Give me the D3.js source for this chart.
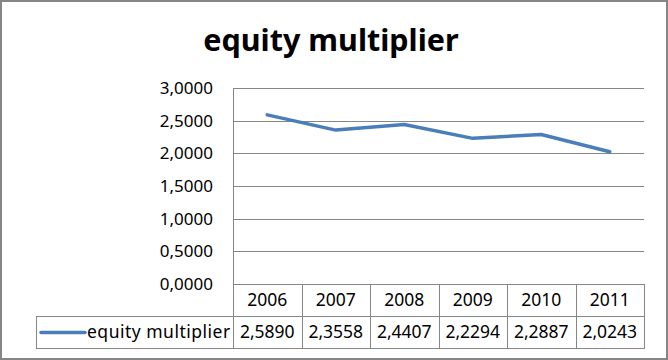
<!DOCTYPE html>
<html><head><meta charset="utf-8">
<script src="https://cdn.jsdelivr.net/npm/d3@7"></script>
<style>html,body{margin:0;padding:0;background:#fff;}svg{display:block;}</style>
</head><body>
<svg id="chart" width="668" height="360"></svg>
<script>
const title = "equity multiplier";
const seriesName = "equity multiplier";
const years = ["2006","2007","2008","2009","2010","2011"];
const values = [2.5890, 2.3558, 2.4407, 2.2294, 2.2887, 2.0243];
const yTicks = [0, 0.5, 1.0, 1.5, 2.0, 2.5, 3.0];

const fmt = v => v.toFixed(4).replace(".", ",");
const FONT = "'Noto Sans', 'Open Sans', sans-serif";
const gridColor = "#868686";
const lineColor = "#4a7ebb";

const svg = d3.select("#chart");
svg.append("rect").attr("x",0).attr("y",0).attr("width",668).attr("height",360).attr("fill","#fff");
svg.append("rect").attr("x",1).attr("y",1).attr("width",666).attr("height",358)
  .attr("fill","none").attr("stroke",gridColor).attr("stroke-width",2);

const pLeft = 233, pRight = 644, pTop = 88, pBottom = 284;
const row1 = 316, row2 = 348, legendLeft = 36;

const x = d3.scaleBand().domain(years).range([pLeft, pRight]).padding(0);
const y = d3.scaleLinear().domain([0, 3]).range([pBottom, pTop]);

// title
svg.append("text").attr("x", 331).attr("y", 51).attr("text-anchor","middle")
  .attr("font-family", FONT).attr("font-weight","bold").attr("font-size", 30.5)
  .attr("fill","#000").text(title);

// gridlines
svg.append("g").selectAll("line").data(yTicks.filter(t => t > 0)).join("line")
  .attr("x1", pLeft).attr("x2", pRight)
  .attr("y1", d => Math.round(y(d)) + 0.5).attr("y2", d => Math.round(y(d)) + 0.5)
  .attr("stroke", gridColor).attr("stroke-width", 1);

// y tick labels
svg.append("g").selectAll("text").data(yTicks).join("text")
  .attr("x", 213).attr("y", d => y(d)).attr("dy","0.35em").attr("text-anchor","end")
  .attr("font-family", FONT).attr("font-size", 17).attr("fill","#000")
  .text(fmt);

// table lines
const tl = svg.append("g").attr("stroke", gridColor).attr("stroke-width", 1).attr("fill","none");
tl.append("line").attr("x1", pLeft).attr("x2", pRight).attr("y1", pBottom+0.5).attr("y2", pBottom+0.5);
tl.append("line").attr("x1", legendLeft).attr("x2", pRight).attr("y1", row1+0.5).attr("y2", row1+0.5);
tl.append("line").attr("x1", legendLeft).attr("x2", pRight).attr("y1", row2+0.5).attr("y2", row2+0.5);
tl.append("line").attr("x1", legendLeft+0.5).attr("x2", legendLeft+0.5).attr("y1", row1).attr("y2", row2+1);
tl.append("line").attr("x1", pLeft+0.5).attr("x2", pLeft+0.5).attr("y1", pTop).attr("y2", row2+1);
tl.selectAll("line.col").data(years).join("line").attr("class","col")
  .attr("x1", d => Math.round(x(d) + x.bandwidth()) + 0.5)
  .attr("x2", d => Math.round(x(d) + x.bandwidth()) + 0.5)
  .attr("y1", pBottom).attr("y2", row2+1);

// year labels
svg.append("g").selectAll("text").data(years).join("text")
  .attr("x", d => x(d) + x.bandwidth()/2).attr("y", (pBottom+row1)/2).attr("dy","0.35em")
  .attr("text-anchor","middle").attr("font-family", FONT).attr("font-size", 17.5).attr("fill","#000")
  .text(d => d);

// value labels
svg.append("g").selectAll("text").data(values).join("text")
  .attr("x", (d,i) => x(years[i]) + x.bandwidth()/2).attr("y", (row1+row2)/2).attr("dy","0.35em")
  .attr("text-anchor","middle").attr("font-family", FONT).attr("font-size", 17.5).attr("fill","#000")
  .text(fmt);

// legend key
svg.append("line").attr("x1", 41).attr("x2", 85).attr("y1", (row1+row2)/2+0.5).attr("y2", (row1+row2)/2+0.5)
  .attr("stroke", lineColor).attr("stroke-width", 3.5).attr("stroke-linecap","round");
svg.append("text").attr("x", 87).attr("y", (row1+row2)/2).attr("dy","0.35em")
  .attr("font-family", FONT).attr("font-size", 17.5).attr("letter-spacing", 0.5).attr("fill","#000").text(seriesName);

// series line
const line = d3.line().x((d,i) => x(years[i]) + x.bandwidth()/2).y(d => y(d));
svg.append("path").datum(values).attr("d", line).attr("fill","none")
  .attr("stroke", lineColor).attr("stroke-width", 3.5)
  .attr("stroke-linejoin","round").attr("stroke-linecap","round");
</script>
</body></html>
